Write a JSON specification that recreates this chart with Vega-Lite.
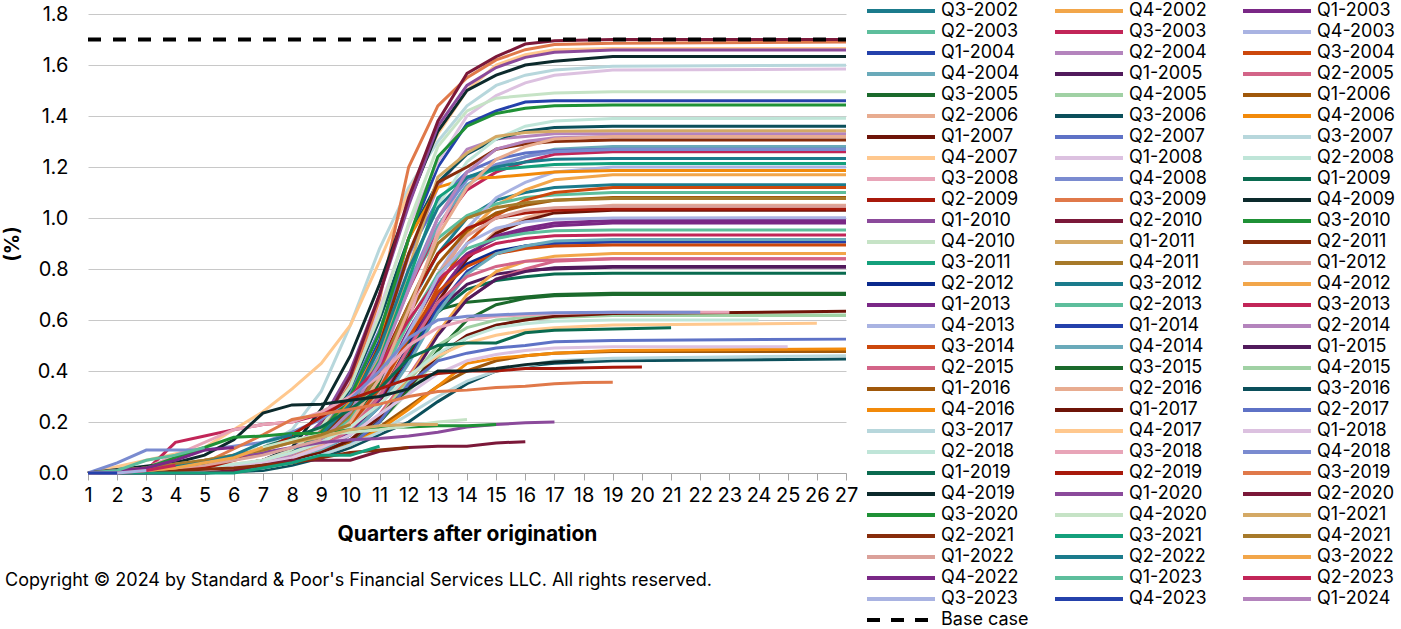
{
"$schema":"https://vega.github.io/schema/vega-lite/v6.json",
"width":758,"height":459,
"autosize":{"type":"none"},
"padding":{"left":88,"top":14,"right":555,"bottom":156},
"config":{"font":"Inter","view":{"stroke":null}},
"title":{"text":"Copyright © 2024 by Standard & Poor's Financial Services LLC. All rights reserved.","orient":"bottom","anchor":"start","frame":"group","dx":-83,"offset":-57,"fontSize":18,"fontWeight":"normal","color":"#000"},
"encoding":{
"x":{"field":"q","type":"quantitative","scale":{"domain":[1,27],"nice":false,"zero":false},"axis":{"values":[1,2,3,4,5,6,7,8,9,10,11,12,13,14,15,16,17,18,19,20,21,22,23,24,25,26,27],"title":"Quarters after origination","titleFontSize":21,"titleFontWeight":"bold","titleColor":"#000","titlePadding":18,"labelFontSize":20,"labelColor":"#000","labelPadding":5,"tickColor":"#a6a6a6","tickSize":7,"domainColor":"#a6a6a6","grid":false,"labelFlush":false,"labelOverlap":false}},
"y":{"field":"v","type":"quantitative","scale":{"domain":[0,1.8],"nice":false},"axis":{"values":[0,0.2,0.4,0.6,0.8,1,1.2,1.4,1.6,1.8],"format":".1f","title":"(%)","titleFontSize":20,"titleFontWeight":"bold","titleColor":"#000","titlePadding":15,"labelFontSize":20,"labelColor":"#000","labelPadding":20,"ticks":false,"domain":false,"gridColor":"#c8c8c8","gridWidth":1}}
},
"layer":[
{"data":{"values":[
{"s":"Q3-2002","q":1,"v":0},{"s":"Q3-2002","q":5,"v":0.01},{"s":"Q3-2002","q":7,"v":0.03},{"s":"Q3-2002","q":8,"v":0.07},{"s":"Q3-2002","q":9,"v":0.12},{"s":"Q3-2002","q":10,"v":0.23},{"s":"Q3-2002","q":11,"v":0.41},{"s":"Q3-2002","q":12,"v":0.65},{"s":"Q3-2002","q":13,"v":0.86},{"s":"Q3-2002","q":14,"v":1.0},{"s":"Q3-2002","q":15,"v":1.07},{"s":"Q3-2002","q":16,"v":1.1},{"s":"Q3-2002","q":17,"v":1.12},{"s":"Q3-2002","q":19,"v":1.13},{"s":"Q3-2002","q":27,"v":1.13},
{"s":"Q4-2002","q":1,"v":0},{"s":"Q4-2002","q":5,"v":0.01},{"s":"Q4-2002","q":7,"v":0.035},{"s":"Q4-2002","q":8,"v":0.06},{"s":"Q4-2002","q":9,"v":0.105},{"s":"Q4-2002","q":10,"v":0.175},{"s":"Q4-2002","q":11,"v":0.32},{"s":"Q4-2002","q":12,"v":0.53},{"s":"Q4-2002","q":13,"v":0.76},{"s":"Q4-2002","q":14,"v":0.94},{"s":"Q4-2002","q":15,"v":1.05},{"s":"Q4-2002","q":16,"v":1.11},{"s":"Q4-2002","q":17,"v":1.15},{"s":"Q4-2002","q":19,"v":1.17},{"s":"Q4-2002","q":27,"v":1.17},
{"s":"Q1-2003","q":1,"v":0},{"s":"Q1-2003","q":5,"v":0.01},{"s":"Q1-2003","q":7,"v":0.03},{"s":"Q1-2003","q":8,"v":0.06},{"s":"Q1-2003","q":9,"v":0.11},{"s":"Q1-2003","q":10,"v":0.2},{"s":"Q1-2003","q":11,"v":0.35},{"s":"Q1-2003","q":12,"v":0.56},{"s":"Q1-2003","q":13,"v":0.75},{"s":"Q1-2003","q":14,"v":0.86},{"s":"Q1-2003","q":15,"v":0.92},{"s":"Q1-2003","q":16,"v":0.95},{"s":"Q1-2003","q":17,"v":0.97},{"s":"Q1-2003","q":19,"v":0.98},{"s":"Q1-2003","q":27,"v":0.98},
{"s":"Q2-2003","q":1,"v":0},{"s":"Q2-2003","q":5,"v":0.01},{"s":"Q2-2003","q":7,"v":0.045},{"s":"Q2-2003","q":8,"v":0.08},{"s":"Q2-2003","q":9,"v":0.14},{"s":"Q2-2003","q":10,"v":0.27},{"s":"Q2-2003","q":11,"v":0.49},{"s":"Q2-2003","q":12,"v":0.75},{"s":"Q2-2003","q":13,"v":0.92},{"s":"Q2-2003","q":14,"v":1.01},{"s":"Q2-2003","q":15,"v":1.055},{"s":"Q2-2003","q":16,"v":1.08},{"s":"Q2-2003","q":17,"v":1.09},{"s":"Q2-2003","q":19,"v":1.1},{"s":"Q2-2003","q":27,"v":1.1},
{"s":"Q3-2003","q":1,"v":0},{"s":"Q3-2003","q":5,"v":0.01},{"s":"Q3-2003","q":7,"v":0.04},{"s":"Q3-2003","q":8,"v":0.08},{"s":"Q3-2003","q":9,"v":0.14},{"s":"Q3-2003","q":10,"v":0.25},{"s":"Q3-2003","q":11,"v":0.45},{"s":"Q3-2003","q":12,"v":0.72},{"s":"Q3-2003","q":13,"v":0.96},{"s":"Q3-2003","q":14,"v":1.11},{"s":"Q3-2003","q":15,"v":1.18},{"s":"Q3-2003","q":16,"v":1.22},{"s":"Q3-2003","q":17,"v":1.25},{"s":"Q3-2003","q":19,"v":1.26},{"s":"Q3-2003","q":27,"v":1.26},
{"s":"Q4-2003","q":1,"v":0},{"s":"Q4-2003","q":5,"v":0.01},{"s":"Q4-2003","q":7,"v":0.04},{"s":"Q4-2003","q":8,"v":0.06},{"s":"Q4-2003","q":9,"v":0.11},{"s":"Q4-2003","q":10,"v":0.18},{"s":"Q4-2003","q":11,"v":0.33},{"s":"Q4-2003","q":12,"v":0.54},{"s":"Q4-2003","q":13,"v":0.78},{"s":"Q4-2003","q":14,"v":0.96},{"s":"Q4-2003","q":15,"v":1.08},{"s":"Q4-2003","q":16,"v":1.14},{"s":"Q4-2003","q":17,"v":1.18},{"s":"Q4-2003","q":19,"v":1.2},{"s":"Q4-2003","q":27,"v":1.2},
{"s":"Q1-2004","q":1,"v":0},{"s":"Q1-2004","q":5,"v":0.01},{"s":"Q1-2004","q":7,"v":0.04},{"s":"Q1-2004","q":8,"v":0.08},{"s":"Q1-2004","q":9,"v":0.15},{"s":"Q1-2004","q":10,"v":0.28},{"s":"Q1-2004","q":11,"v":0.52},{"s":"Q1-2004","q":12,"v":0.92},{"s":"Q1-2004","q":13,"v":1.2},{"s":"Q1-2004","q":14,"v":1.37},{"s":"Q1-2004","q":15,"v":1.42},{"s":"Q1-2004","q":16,"v":1.455},{"s":"Q1-2004","q":17,"v":1.46},{"s":"Q1-2004","q":19,"v":1.46},{"s":"Q1-2004","q":27,"v":1.46},
{"s":"Q2-2004","q":1,"v":0},{"s":"Q2-2004","q":5,"v":0.01},{"s":"Q2-2004","q":7,"v":0.04},{"s":"Q2-2004","q":8,"v":0.08},{"s":"Q2-2004","q":9,"v":0.15},{"s":"Q2-2004","q":10,"v":0.28},{"s":"Q2-2004","q":11,"v":0.5},{"s":"Q2-2004","q":12,"v":0.85},{"s":"Q2-2004","q":13,"v":1.12},{"s":"Q2-2004","q":14,"v":1.27},{"s":"Q2-2004","q":15,"v":1.31},{"s":"Q2-2004","q":16,"v":1.32},{"s":"Q2-2004","q":17,"v":1.33},{"s":"Q2-2004","q":19,"v":1.33},{"s":"Q2-2004","q":27,"v":1.33},
{"s":"Q3-2004","q":1,"v":0},{"s":"Q3-2004","q":5,"v":0.01},{"s":"Q3-2004","q":7,"v":0.03},{"s":"Q3-2004","q":8,"v":0.06},{"s":"Q3-2004","q":9,"v":0.1},{"s":"Q3-2004","q":10,"v":0.17},{"s":"Q3-2004","q":11,"v":0.3},{"s":"Q3-2004","q":12,"v":0.5},{"s":"Q3-2004","q":13,"v":0.73},{"s":"Q3-2004","q":14,"v":0.9},{"s":"Q3-2004","q":15,"v":1.01},{"s":"Q3-2004","q":16,"v":1.07},{"s":"Q3-2004","q":17,"v":1.1},{"s":"Q3-2004","q":19,"v":1.12},{"s":"Q3-2004","q":27,"v":1.12},
{"s":"Q4-2004","q":1,"v":0},{"s":"Q4-2004","q":5,"v":0.01},{"s":"Q4-2004","q":7,"v":0.04},{"s":"Q4-2004","q":8,"v":0.08},{"s":"Q4-2004","q":9,"v":0.14},{"s":"Q4-2004","q":10,"v":0.26},{"s":"Q4-2004","q":11,"v":0.46},{"s":"Q4-2004","q":12,"v":0.73},{"s":"Q4-2004","q":13,"v":0.97},{"s":"Q4-2004","q":14,"v":1.13},{"s":"Q4-2004","q":15,"v":1.2},{"s":"Q4-2004","q":16,"v":1.24},{"s":"Q4-2004","q":17,"v":1.27},{"s":"Q4-2004","q":19,"v":1.28},{"s":"Q4-2004","q":27,"v":1.28},
{"s":"Q1-2005","q":1,"v":0},{"s":"Q1-2005","q":5,"v":0.01},{"s":"Q1-2005","q":7,"v":0.03},{"s":"Q1-2005","q":8,"v":0.05},{"s":"Q1-2005","q":9,"v":0.09},{"s":"Q1-2005","q":10,"v":0.16},{"s":"Q1-2005","q":11,"v":0.29},{"s":"Q1-2005","q":12,"v":0.47},{"s":"Q1-2005","q":13,"v":0.64},{"s":"Q1-2005","q":14,"v":0.74},{"s":"Q1-2005","q":15,"v":0.78},{"s":"Q1-2005","q":16,"v":0.795},{"s":"Q1-2005","q":17,"v":0.8},{"s":"Q1-2005","q":19,"v":0.807},{"s":"Q1-2005","q":27,"v":0.807},
{"s":"Q2-2005","q":1,"v":0},{"s":"Q2-2005","q":5,"v":0.01},{"s":"Q2-2005","q":7,"v":0.02},{"s":"Q2-2005","q":8,"v":0.04},{"s":"Q2-2005","q":9,"v":0.07},{"s":"Q2-2005","q":10,"v":0.13},{"s":"Q2-2005","q":11,"v":0.23},{"s":"Q2-2005","q":12,"v":0.38},{"s":"Q2-2005","q":13,"v":0.55},{"s":"Q2-2005","q":14,"v":0.68},{"s":"Q2-2005","q":15,"v":0.76},{"s":"Q2-2005","q":16,"v":0.8},{"s":"Q2-2005","q":17,"v":0.83},{"s":"Q2-2005","q":19,"v":0.84},{"s":"Q2-2005","q":27,"v":0.84},
{"s":"Q3-2005","q":1,"v":0},{"s":"Q3-2005","q":5,"v":0.01},{"s":"Q3-2005","q":7,"v":0.03},{"s":"Q3-2005","q":8,"v":0.06},{"s":"Q3-2005","q":9,"v":0.11},{"s":"Q3-2005","q":10,"v":0.2},{"s":"Q3-2005","q":11,"v":0.35},{"s":"Q3-2005","q":12,"v":0.52},{"s":"Q3-2005","q":13,"v":0.64},{"s":"Q3-2005","q":14,"v":0.67},{"s":"Q3-2005","q":15,"v":0.68},{"s":"Q3-2005","q":16,"v":0.69},{"s":"Q3-2005","q":17,"v":0.7},{"s":"Q3-2005","q":19,"v":0.705},{"s":"Q3-2005","q":27,"v":0.705},
{"s":"Q4-2005","q":1,"v":0},{"s":"Q4-2005","q":5,"v":0.01},{"s":"Q4-2005","q":7,"v":0.03},{"s":"Q4-2005","q":8,"v":0.05},{"s":"Q4-2005","q":9,"v":0.08},{"s":"Q4-2005","q":10,"v":0.12},{"s":"Q4-2005","q":11,"v":0.2},{"s":"Q4-2005","q":12,"v":0.32},{"s":"Q4-2005","q":13,"v":0.45},{"s":"Q4-2005","q":14,"v":0.53},{"s":"Q4-2005","q":15,"v":0.58},{"s":"Q4-2005","q":16,"v":0.6},{"s":"Q4-2005","q":17,"v":0.61},{"s":"Q4-2005","q":19,"v":0.618},{"s":"Q4-2005","q":27,"v":0.618},
{"s":"Q1-2006","q":1,"v":0},{"s":"Q1-2006","q":5,"v":0.01},{"s":"Q1-2006","q":7,"v":0.03},{"s":"Q1-2006","q":8,"v":0.07},{"s":"Q1-2006","q":9,"v":0.12},{"s":"Q1-2006","q":10,"v":0.22},{"s":"Q1-2006","q":11,"v":0.39},{"s":"Q1-2006","q":12,"v":0.62},{"s":"Q1-2006","q":13,"v":0.82},{"s":"Q1-2006","q":14,"v":0.95},{"s":"Q1-2006","q":15,"v":1.02},{"s":"Q1-2006","q":16,"v":1.05},{"s":"Q1-2006","q":17,"v":1.07},{"s":"Q1-2006","q":19,"v":1.08},{"s":"Q1-2006","q":27,"v":1.08},
{"s":"Q2-2006","q":1,"v":0},{"s":"Q2-2006","q":5,"v":0.01},{"s":"Q2-2006","q":7,"v":0.03},{"s":"Q2-2006","q":8,"v":0.06},{"s":"Q2-2006","q":9,"v":0.1},{"s":"Q2-2006","q":10,"v":0.16},{"s":"Q2-2006","q":11,"v":0.28},{"s":"Q2-2006","q":12,"v":0.47},{"s":"Q2-2006","q":13,"v":0.68},{"s":"Q2-2006","q":14,"v":0.84},{"s":"Q2-2006","q":15,"v":0.95},{"s":"Q2-2006","q":16,"v":1.0},{"s":"Q2-2006","q":17,"v":1.03},{"s":"Q2-2006","q":19,"v":1.05},{"s":"Q2-2006","q":27,"v":1.05},
{"s":"Q3-2006","q":1,"v":0},{"s":"Q3-2006","q":5,"v":0.01},{"s":"Q3-2006","q":7,"v":0.05},{"s":"Q3-2006","q":8,"v":0.09},{"s":"Q3-2006","q":9,"v":0.17},{"s":"Q3-2006","q":10,"v":0.33},{"s":"Q3-2006","q":11,"v":0.6},{"s":"Q3-2006","q":12,"v":0.92},{"s":"Q3-2006","q":13,"v":1.14},{"s":"Q3-2006","q":14,"v":1.25},{"s":"Q3-2006","q":15,"v":1.31},{"s":"Q3-2006","q":16,"v":1.34},{"s":"Q3-2006","q":17,"v":1.355},{"s":"Q3-2006","q":19,"v":1.36},{"s":"Q3-2006","q":27,"v":1.36},
{"s":"Q4-2006","q":1,"v":0},{"s":"Q4-2006","q":5,"v":0.01},{"s":"Q4-2006","q":7,"v":0.04},{"s":"Q4-2006","q":8,"v":0.08},{"s":"Q4-2006","q":9,"v":0.15},{"s":"Q4-2006","q":10,"v":0.28},{"s":"Q4-2006","q":11,"v":0.5},{"s":"Q4-2006","q":12,"v":0.92},{"s":"Q4-2006","q":13,"v":1.12},{"s":"Q4-2006","q":14,"v":1.155},{"s":"Q4-2006","q":15,"v":1.16},{"s":"Q4-2006","q":16,"v":1.17},{"s":"Q4-2006","q":17,"v":1.18},{"s":"Q4-2006","q":19,"v":1.186},{"s":"Q4-2006","q":27,"v":1.186},
{"s":"Q1-2007","q":1,"v":0},{"s":"Q1-2007","q":5,"v":0.01},{"s":"Q1-2007","q":7,"v":0.03},{"s":"Q1-2007","q":8,"v":0.05},{"s":"Q1-2007","q":9,"v":0.09},{"s":"Q1-2007","q":10,"v":0.16},{"s":"Q1-2007","q":11,"v":0.28},{"s":"Q1-2007","q":12,"v":0.46},{"s":"Q1-2007","q":13,"v":0.67},{"s":"Q1-2007","q":14,"v":0.84},{"s":"Q1-2007","q":15,"v":0.94},{"s":"Q1-2007","q":16,"v":0.99},{"s":"Q1-2007","q":17,"v":1.02},{"s":"Q1-2007","q":19,"v":1.03},{"s":"Q1-2007","q":27,"v":1.03},
{"s":"Q2-2007","q":1,"v":0},{"s":"Q2-2007","q":5,"v":0.01},{"s":"Q2-2007","q":7,"v":0.04},{"s":"Q2-2007","q":8,"v":0.09},{"s":"Q2-2007","q":9,"v":0.17},{"s":"Q2-2007","q":10,"v":0.31},{"s":"Q2-2007","q":11,"v":0.56},{"s":"Q2-2007","q":12,"v":0.86},{"s":"Q2-2007","q":13,"v":1.07},{"s":"Q2-2007","q":14,"v":1.18},{"s":"Q2-2007","q":15,"v":1.23},{"s":"Q2-2007","q":16,"v":1.255},{"s":"Q2-2007","q":17,"v":1.265},{"s":"Q2-2007","q":19,"v":1.27},{"s":"Q2-2007","q":27,"v":1.27},
{"s":"Q3-2007","q":1,"v":0},{"s":"Q3-2007","q":5,"v":0.02},{"s":"Q3-2007","q":7,"v":0.1},{"s":"Q3-2007","q":8,"v":0.17},{"s":"Q3-2007","q":9,"v":0.32},{"s":"Q3-2007","q":10,"v":0.58},{"s":"Q3-2007","q":11,"v":0.88},{"s":"Q3-2007","q":12,"v":1.12},{"s":"Q3-2007","q":13,"v":1.3},{"s":"Q3-2007","q":14,"v":1.44},{"s":"Q3-2007","q":15,"v":1.52},{"s":"Q3-2007","q":16,"v":1.56},{"s":"Q3-2007","q":17,"v":1.58},{"s":"Q3-2007","q":19,"v":1.595},{"s":"Q3-2007","q":27,"v":1.599},
{"s":"Q4-2007","q":1,"v":0},{"s":"Q4-2007","q":5,"v":0.1},{"s":"Q4-2007","q":7,"v":0.24},{"s":"Q4-2007","q":8,"v":0.33},{"s":"Q4-2007","q":9,"v":0.43},{"s":"Q4-2007","q":10,"v":0.58},{"s":"Q4-2007","q":11,"v":0.83},{"s":"Q4-2007","q":12,"v":1.1},{"s":"Q4-2007","q":13,"v":1.33},{"s":"Q4-2007","q":14,"v":1.5},{"s":"Q4-2007","q":15,"v":1.6},{"s":"Q4-2007","q":16,"v":1.64},{"s":"Q4-2007","q":17,"v":1.66},{"s":"Q4-2007","q":19,"v":1.665},{"s":"Q4-2007","q":27,"v":1.665},
{"s":"Q1-2008","q":1,"v":0},{"s":"Q1-2008","q":5,"v":0.01},{"s":"Q1-2008","q":7,"v":0.05},{"s":"Q1-2008","q":8,"v":0.1},{"s":"Q1-2008","q":9,"v":0.19},{"s":"Q1-2008","q":10,"v":0.36},{"s":"Q1-2008","q":11,"v":0.64},{"s":"Q1-2008","q":12,"v":0.97},{"s":"Q1-2008","q":13,"v":1.22},{"s":"Q1-2008","q":14,"v":1.4},{"s":"Q1-2008","q":15,"v":1.48},{"s":"Q1-2008","q":16,"v":1.53},{"s":"Q1-2008","q":17,"v":1.56},{"s":"Q1-2008","q":19,"v":1.58},{"s":"Q1-2008","q":27,"v":1.584},
{"s":"Q2-2008","q":1,"v":0},{"s":"Q2-2008","q":5,"v":0.01},{"s":"Q2-2008","q":7,"v":0.04},{"s":"Q2-2008","q":8,"v":0.08},{"s":"Q2-2008","q":9,"v":0.15},{"s":"Q2-2008","q":10,"v":0.27},{"s":"Q2-2008","q":11,"v":0.48},{"s":"Q2-2008","q":12,"v":0.78},{"s":"Q2-2008","q":13,"v":1.05},{"s":"Q2-2008","q":14,"v":1.22},{"s":"Q2-2008","q":15,"v":1.31},{"s":"Q2-2008","q":16,"v":1.36},{"s":"Q2-2008","q":17,"v":1.38},{"s":"Q2-2008","q":19,"v":1.39},{"s":"Q2-2008","q":27,"v":1.391},
{"s":"Q3-2008","q":1,"v":0},{"s":"Q3-2008","q":5,"v":0.01},{"s":"Q3-2008","q":7,"v":0.03},{"s":"Q3-2008","q":8,"v":0.06},{"s":"Q3-2008","q":9,"v":0.1},{"s":"Q3-2008","q":10,"v":0.18},{"s":"Q3-2008","q":11,"v":0.33},{"s":"Q3-2008","q":12,"v":0.6},{"s":"Q3-2008","q":13,"v":0.95},{"s":"Q3-2008","q":14,"v":1.18},{"s":"Q3-2008","q":15,"v":1.27},{"s":"Q3-2008","q":16,"v":1.3},{"s":"Q3-2008","q":17,"v":1.31},{"s":"Q3-2008","q":19,"v":1.319},{"s":"Q3-2008","q":27,"v":1.319},
{"s":"Q4-2008","q":1,"v":0},{"s":"Q4-2008","q":5,"v":0.01},{"s":"Q4-2008","q":7,"v":0.04},{"s":"Q4-2008","q":8,"v":0.08},{"s":"Q4-2008","q":9,"v":0.14},{"s":"Q4-2008","q":10,"v":0.26},{"s":"Q4-2008","q":11,"v":0.46},{"s":"Q4-2008","q":12,"v":0.74},{"s":"Q4-2008","q":13,"v":1.0},{"s":"Q4-2008","q":14,"v":1.15},{"s":"Q4-2008","q":15,"v":1.21},{"s":"Q4-2008","q":16,"v":1.24},{"s":"Q4-2008","q":17,"v":1.26},{"s":"Q4-2008","q":19,"v":1.269},{"s":"Q4-2008","q":27,"v":1.269},
{"s":"Q1-2009","q":1,"v":0},{"s":"Q1-2009","q":5,"v":0.01},{"s":"Q1-2009","q":7,"v":0.03},{"s":"Q1-2009","q":8,"v":0.06},{"s":"Q1-2009","q":9,"v":0.1},{"s":"Q1-2009","q":10,"v":0.18},{"s":"Q1-2009","q":11,"v":0.31},{"s":"Q1-2009","q":12,"v":0.48},{"s":"Q1-2009","q":13,"v":0.63},{"s":"Q1-2009","q":14,"v":0.72},{"s":"Q1-2009","q":15,"v":0.755},{"s":"Q1-2009","q":16,"v":0.77},{"s":"Q1-2009","q":17,"v":0.78},{"s":"Q1-2009","q":19,"v":0.783},{"s":"Q1-2009","q":27,"v":0.783},
{"s":"Q2-2009","q":1,"v":0},{"s":"Q2-2009","q":5,"v":0.01},{"s":"Q2-2009","q":7,"v":0.04},{"s":"Q2-2009","q":8,"v":0.07},{"s":"Q2-2009","q":9,"v":0.13},{"s":"Q2-2009","q":10,"v":0.24},{"s":"Q2-2009","q":11,"v":0.42},{"s":"Q2-2009","q":12,"v":0.66},{"s":"Q2-2009","q":13,"v":0.86},{"s":"Q2-2009","q":14,"v":0.96},{"s":"Q2-2009","q":15,"v":1.0},{"s":"Q2-2009","q":16,"v":1.02},{"s":"Q2-2009","q":17,"v":1.03},{"s":"Q2-2009","q":19,"v":1.035},{"s":"Q2-2009","q":27,"v":1.035},
{"s":"Q3-2009","q":1,"v":0},{"s":"Q3-2009","q":5,"v":0.01},{"s":"Q3-2009","q":7,"v":0.04},{"s":"Q3-2009","q":8,"v":0.08},{"s":"Q3-2009","q":9,"v":0.17},{"s":"Q3-2009","q":10,"v":0.35},{"s":"Q3-2009","q":11,"v":0.68},{"s":"Q3-2009","q":12,"v":1.2},{"s":"Q3-2009","q":13,"v":1.44},{"s":"Q3-2009","q":14,"v":1.55},{"s":"Q3-2009","q":15,"v":1.62},{"s":"Q3-2009","q":16,"v":1.66},{"s":"Q3-2009","q":17,"v":1.68},{"s":"Q3-2009","q":19,"v":1.685},{"s":"Q3-2009","q":27,"v":1.69},
{"s":"Q4-2009","q":1,"v":0},{"s":"Q4-2009","q":5,"v":0.01},{"s":"Q4-2009","q":7,"v":0.05},{"s":"Q4-2009","q":8,"v":0.1},{"s":"Q4-2009","q":9,"v":0.25},{"s":"Q4-2009","q":10,"v":0.46},{"s":"Q4-2009","q":11,"v":0.74},{"s":"Q4-2009","q":12,"v":1.06},{"s":"Q4-2009","q":13,"v":1.34},{"s":"Q4-2009","q":14,"v":1.5},{"s":"Q4-2009","q":15,"v":1.56},{"s":"Q4-2009","q":16,"v":1.6},{"s":"Q4-2009","q":17,"v":1.615},{"s":"Q4-2009","q":19,"v":1.633},{"s":"Q4-2009","q":27,"v":1.633},
{"s":"Q1-2010","q":1,"v":0},{"s":"Q1-2010","q":5,"v":0.01},{"s":"Q1-2010","q":7,"v":0.05},{"s":"Q1-2010","q":8,"v":0.09},{"s":"Q1-2010","q":9,"v":0.2},{"s":"Q1-2010","q":10,"v":0.4},{"s":"Q1-2010","q":11,"v":0.7},{"s":"Q1-2010","q":12,"v":1.05},{"s":"Q1-2010","q":13,"v":1.36},{"s":"Q1-2010","q":14,"v":1.52},{"s":"Q1-2010","q":15,"v":1.59},{"s":"Q1-2010","q":16,"v":1.63},{"s":"Q1-2010","q":17,"v":1.65},{"s":"Q1-2010","q":19,"v":1.659},{"s":"Q1-2010","q":27,"v":1.659},
{"s":"Q2-2010","q":1,"v":0},{"s":"Q2-2010","q":5,"v":0.01},{"s":"Q2-2010","q":7,"v":0.04},{"s":"Q2-2010","q":8,"v":0.08},{"s":"Q2-2010","q":9,"v":0.18},{"s":"Q2-2010","q":10,"v":0.38},{"s":"Q2-2010","q":11,"v":0.7},{"s":"Q2-2010","q":12,"v":1.08},{"s":"Q2-2010","q":13,"v":1.38},{"s":"Q2-2010","q":14,"v":1.567},{"s":"Q2-2010","q":15,"v":1.633},{"s":"Q2-2010","q":16,"v":1.682},{"s":"Q2-2010","q":17,"v":1.695},{"s":"Q2-2010","q":19,"v":1.7},{"s":"Q2-2010","q":27,"v":1.7},
{"s":"Q3-2010","q":1,"v":0},{"s":"Q3-2010","q":5,"v":0.01},{"s":"Q3-2010","q":7,"v":0.04},{"s":"Q3-2010","q":8,"v":0.08},{"s":"Q3-2010","q":9,"v":0.16},{"s":"Q3-2010","q":10,"v":0.3},{"s":"Q3-2010","q":11,"v":0.55},{"s":"Q3-2010","q":12,"v":0.92},{"s":"Q3-2010","q":13,"v":1.24},{"s":"Q3-2010","q":14,"v":1.36},{"s":"Q3-2010","q":15,"v":1.41},{"s":"Q3-2010","q":16,"v":1.43},{"s":"Q3-2010","q":17,"v":1.44},{"s":"Q3-2010","q":19,"v":1.443},{"s":"Q3-2010","q":27,"v":1.443},
{"s":"Q4-2010","q":1,"v":0},{"s":"Q4-2010","q":5,"v":0.01},{"s":"Q4-2010","q":7,"v":0.05},{"s":"Q4-2010","q":8,"v":0.09},{"s":"Q4-2010","q":9,"v":0.18},{"s":"Q4-2010","q":10,"v":0.34},{"s":"Q4-2010","q":11,"v":0.62},{"s":"Q4-2010","q":12,"v":0.98},{"s":"Q4-2010","q":13,"v":1.28},{"s":"Q4-2010","q":14,"v":1.42},{"s":"Q4-2010","q":15,"v":1.47},{"s":"Q4-2010","q":16,"v":1.48},{"s":"Q4-2010","q":17,"v":1.49},{"s":"Q4-2010","q":19,"v":1.495},{"s":"Q4-2010","q":27,"v":1.495},
{"s":"Q1-2011","q":1,"v":0},{"s":"Q1-2011","q":5,"v":0.01},{"s":"Q1-2011","q":7,"v":0.04},{"s":"Q1-2011","q":8,"v":0.07},{"s":"Q1-2011","q":9,"v":0.13},{"s":"Q1-2011","q":10,"v":0.25},{"s":"Q1-2011","q":11,"v":0.45},{"s":"Q1-2011","q":12,"v":0.8},{"s":"Q1-2011","q":13,"v":1.16},{"s":"Q1-2011","q":14,"v":1.255},{"s":"Q1-2011","q":15,"v":1.32},{"s":"Q1-2011","q":16,"v":1.335},{"s":"Q1-2011","q":17,"v":1.34},{"s":"Q1-2011","q":19,"v":1.342},{"s":"Q1-2011","q":27,"v":1.342},
{"s":"Q2-2011","q":1,"v":0},{"s":"Q2-2011","q":5,"v":0.01},{"s":"Q2-2011","q":7,"v":0.04},{"s":"Q2-2011","q":8,"v":0.08},{"s":"Q2-2011","q":9,"v":0.14},{"s":"Q2-2011","q":10,"v":0.26},{"s":"Q2-2011","q":11,"v":0.5},{"s":"Q2-2011","q":12,"v":0.86},{"s":"Q2-2011","q":13,"v":1.14},{"s":"Q2-2011","q":14,"v":1.2},{"s":"Q2-2011","q":15,"v":1.27},{"s":"Q2-2011","q":16,"v":1.29},{"s":"Q2-2011","q":17,"v":1.3},{"s":"Q2-2011","q":19,"v":1.306},{"s":"Q2-2011","q":27,"v":1.306},
{"s":"Q3-2011","q":1,"v":0},{"s":"Q3-2011","q":5,"v":0.01},{"s":"Q3-2011","q":7,"v":0.04},{"s":"Q3-2011","q":8,"v":0.07},{"s":"Q3-2011","q":9,"v":0.13},{"s":"Q3-2011","q":10,"v":0.24},{"s":"Q3-2011","q":11,"v":0.44},{"s":"Q3-2011","q":12,"v":0.76},{"s":"Q3-2011","q":13,"v":1.08},{"s":"Q3-2011","q":14,"v":1.16},{"s":"Q3-2011","q":15,"v":1.19},{"s":"Q3-2011","q":16,"v":1.2},{"s":"Q3-2011","q":17,"v":1.21},{"s":"Q3-2011","q":19,"v":1.214},{"s":"Q3-2011","q":27,"v":1.214},
{"s":"Q4-2011","q":1,"v":0},{"s":"Q4-2011","q":5,"v":0.01},{"s":"Q4-2011","q":7,"v":0.03},{"s":"Q4-2011","q":8,"v":0.07},{"s":"Q4-2011","q":9,"v":0.12},{"s":"Q4-2011","q":10,"v":0.22},{"s":"Q4-2011","q":11,"v":0.4},{"s":"Q4-2011","q":12,"v":0.66},{"s":"Q4-2011","q":13,"v":0.9},{"s":"Q4-2011","q":14,"v":1.0},{"s":"Q4-2011","q":15,"v":1.04},{"s":"Q4-2011","q":16,"v":1.06},{"s":"Q4-2011","q":17,"v":1.07},{"s":"Q4-2011","q":19,"v":1.076},{"s":"Q4-2011","q":27,"v":1.076},
{"s":"Q1-2012","q":1,"v":0},{"s":"Q1-2012","q":5,"v":0.01},{"s":"Q1-2012","q":7,"v":0.03},{"s":"Q1-2012","q":8,"v":0.06},{"s":"Q1-2012","q":9,"v":0.1},{"s":"Q1-2012","q":10,"v":0.18},{"s":"Q1-2012","q":11,"v":0.32},{"s":"Q1-2012","q":12,"v":0.54},{"s":"Q1-2012","q":13,"v":0.78},{"s":"Q1-2012","q":14,"v":0.93},{"s":"Q1-2012","q":15,"v":1.0},{"s":"Q1-2012","q":16,"v":1.03},{"s":"Q1-2012","q":17,"v":1.04},{"s":"Q1-2012","q":19,"v":1.047},{"s":"Q1-2012","q":27,"v":1.047},
{"s":"Q2-2012","q":1,"v":0},{"s":"Q2-2012","q":5,"v":0.01},{"s":"Q2-2012","q":7,"v":0.03},{"s":"Q2-2012","q":8,"v":0.05},{"s":"Q2-2012","q":9,"v":0.09},{"s":"Q2-2012","q":10,"v":0.16},{"s":"Q2-2012","q":11,"v":0.29},{"s":"Q2-2012","q":12,"v":0.5},{"s":"Q2-2012","q":13,"v":0.7},{"s":"Q2-2012","q":14,"v":0.82},{"s":"Q2-2012","q":15,"v":0.87},{"s":"Q2-2012","q":16,"v":0.89},{"s":"Q2-2012","q":17,"v":0.905},{"s":"Q2-2012","q":19,"v":0.91},{"s":"Q2-2012","q":27,"v":0.91},
{"s":"Q3-2012","q":1,"v":0},{"s":"Q3-2012","q":5,"v":0.01},{"s":"Q3-2012","q":7,"v":0.04},{"s":"Q3-2012","q":8,"v":0.08},{"s":"Q3-2012","q":9,"v":0.15},{"s":"Q3-2012","q":10,"v":0.27},{"s":"Q3-2012","q":11,"v":0.49},{"s":"Q3-2012","q":12,"v":0.8},{"s":"Q3-2012","q":13,"v":1.04},{"s":"Q3-2012","q":14,"v":1.16},{"s":"Q3-2012","q":15,"v":1.2},{"s":"Q3-2012","q":16,"v":1.22},{"s":"Q3-2012","q":17,"v":1.23},{"s":"Q3-2012","q":19,"v":1.233},{"s":"Q3-2012","q":27,"v":1.233},
{"s":"Q4-2012","q":1,"v":0},{"s":"Q4-2012","q":5,"v":0.01},{"s":"Q4-2012","q":7,"v":0.03},{"s":"Q4-2012","q":8,"v":0.05},{"s":"Q4-2012","q":9,"v":0.08},{"s":"Q4-2012","q":10,"v":0.13},{"s":"Q4-2012","q":11,"v":0.22},{"s":"Q4-2012","q":12,"v":0.37},{"s":"Q4-2012","q":13,"v":0.55},{"s":"Q4-2012","q":14,"v":0.7},{"s":"Q4-2012","q":15,"v":0.79},{"s":"Q4-2012","q":16,"v":0.83},{"s":"Q4-2012","q":17,"v":0.85},{"s":"Q4-2012","q":19,"v":0.861},{"s":"Q4-2012","q":27,"v":0.861},
{"s":"Q1-2013","q":1,"v":0},{"s":"Q1-2013","q":5,"v":0.01},{"s":"Q1-2013","q":7,"v":0.03},{"s":"Q1-2013","q":8,"v":0.05},{"s":"Q1-2013","q":9,"v":0.09},{"s":"Q1-2013","q":10,"v":0.16},{"s":"Q1-2013","q":11,"v":0.29},{"s":"Q1-2013","q":12,"v":0.49},{"s":"Q1-2013","q":13,"v":0.7},{"s":"Q1-2013","q":14,"v":0.85},{"s":"Q1-2013","q":15,"v":0.93},{"s":"Q1-2013","q":16,"v":0.96},{"s":"Q1-2013","q":17,"v":0.98},{"s":"Q1-2013","q":19,"v":0.99},{"s":"Q1-2013","q":27,"v":0.99},
{"s":"Q2-2013","q":1,"v":0},{"s":"Q2-2013","q":5,"v":0.01},{"s":"Q2-2013","q":7,"v":0.04},{"s":"Q2-2013","q":8,"v":0.07},{"s":"Q2-2013","q":9,"v":0.12},{"s":"Q2-2013","q":10,"v":0.21},{"s":"Q2-2013","q":11,"v":0.37},{"s":"Q2-2013","q":12,"v":0.59},{"s":"Q2-2013","q":13,"v":0.78},{"s":"Q2-2013","q":14,"v":0.88},{"s":"Q2-2013","q":15,"v":0.92},{"s":"Q2-2013","q":16,"v":0.94},{"s":"Q2-2013","q":17,"v":0.95},{"s":"Q2-2013","q":19,"v":0.953},{"s":"Q2-2013","q":27,"v":0.953},
{"s":"Q3-2013","q":1,"v":0},{"s":"Q3-2013","q":3,"v":0.01},{"s":"Q3-2013","q":4,"v":0.12},{"s":"Q3-2013","q":5,"v":0.145},{"s":"Q3-2013","q":6,"v":0.17},{"s":"Q3-2013","q":7,"v":0.19},{"s":"Q3-2013","q":8,"v":0.2},{"s":"Q3-2013","q":9,"v":0.23},{"s":"Q3-2013","q":10,"v":0.3},{"s":"Q3-2013","q":11,"v":0.42},{"s":"Q3-2013","q":12,"v":0.6},{"s":"Q3-2013","q":13,"v":0.76},{"s":"Q3-2013","q":14,"v":0.85},{"s":"Q3-2013","q":15,"v":0.9},{"s":"Q3-2013","q":16,"v":0.92},{"s":"Q3-2013","q":17,"v":0.93},{"s":"Q3-2013","q":19,"v":0.933},{"s":"Q3-2013","q":27,"v":0.933},
{"s":"Q4-2013","q":1,"v":0},{"s":"Q4-2013","q":5,"v":0.01},{"s":"Q4-2013","q":7,"v":0.03},{"s":"Q4-2013","q":8,"v":0.06},{"s":"Q4-2013","q":9,"v":0.11},{"s":"Q4-2013","q":10,"v":0.19},{"s":"Q4-2013","q":11,"v":0.33},{"s":"Q4-2013","q":12,"v":0.55},{"s":"Q4-2013","q":13,"v":0.77},{"s":"Q4-2013","q":14,"v":0.9},{"s":"Q4-2013","q":15,"v":0.96},{"s":"Q4-2013","q":16,"v":0.985},{"s":"Q4-2013","q":17,"v":0.995},{"s":"Q4-2013","q":19,"v":1.0},{"s":"Q4-2013","q":27,"v":1.001},
{"s":"Q1-2014","q":1,"v":0},{"s":"Q1-2014","q":5,"v":0.01},{"s":"Q1-2014","q":7,"v":0.03},{"s":"Q1-2014","q":8,"v":0.05},{"s":"Q1-2014","q":9,"v":0.09},{"s":"Q1-2014","q":10,"v":0.15},{"s":"Q1-2014","q":11,"v":0.26},{"s":"Q1-2014","q":12,"v":0.44},{"s":"Q1-2014","q":13,"v":0.65},{"s":"Q1-2014","q":14,"v":0.79},{"s":"Q1-2014","q":15,"v":0.86},{"s":"Q1-2014","q":16,"v":0.89},{"s":"Q1-2014","q":17,"v":0.9},{"s":"Q1-2014","q":19,"v":0.906},{"s":"Q1-2014","q":27,"v":0.906},
{"s":"Q2-2014","q":1,"v":0},{"s":"Q2-2014","q":5,"v":0.01},{"s":"Q2-2014","q":7,"v":0.04},{"s":"Q2-2014","q":8,"v":0.07},{"s":"Q2-2014","q":9,"v":0.13},{"s":"Q2-2014","q":10,"v":0.24},{"s":"Q2-2014","q":11,"v":0.43},{"s":"Q2-2014","q":12,"v":0.72},{"s":"Q2-2014","q":13,"v":1.0},{"s":"Q2-2014","q":14,"v":1.18},{"s":"Q2-2014","q":15,"v":1.27},{"s":"Q2-2014","q":16,"v":1.3},{"s":"Q2-2014","q":17,"v":1.315},{"s":"Q2-2014","q":19,"v":1.32},{"s":"Q2-2014","q":27,"v":1.32},
{"s":"Q3-2014","q":1,"v":0},{"s":"Q3-2014","q":5,"v":0.01},{"s":"Q3-2014","q":7,"v":0.03},{"s":"Q3-2014","q":8,"v":0.06},{"s":"Q3-2014","q":9,"v":0.11},{"s":"Q3-2014","q":10,"v":0.19},{"s":"Q3-2014","q":11,"v":0.33},{"s":"Q3-2014","q":12,"v":0.53},{"s":"Q3-2014","q":13,"v":0.71},{"s":"Q3-2014","q":14,"v":0.81},{"s":"Q3-2014","q":15,"v":0.86},{"s":"Q3-2014","q":16,"v":0.88},{"s":"Q3-2014","q":17,"v":0.89},{"s":"Q3-2014","q":19,"v":0.894},{"s":"Q3-2014","q":27,"v":0.894},
{"s":"Q4-2014","q":1,"v":0},{"s":"Q4-2014","q":5,"v":0.01},{"s":"Q4-2014","q":7,"v":0.03},{"s":"Q4-2014","q":8,"v":0.05},{"s":"Q4-2014","q":9,"v":0.09},{"s":"Q4-2014","q":10,"v":0.15},{"s":"Q4-2014","q":11,"v":0.26},{"s":"Q4-2014","q":12,"v":0.43},{"s":"Q4-2014","q":13,"v":0.63},{"s":"Q4-2014","q":14,"v":0.78},{"s":"Q4-2014","q":15,"v":0.86},{"s":"Q4-2014","q":16,"v":0.89},{"s":"Q4-2014","q":17,"v":0.91},{"s":"Q4-2014","q":19,"v":0.916},{"s":"Q4-2014","q":27,"v":0.916},
{"s":"Q1-2015","q":1,"v":0},{"s":"Q1-2015","q":5,"v":0.01},{"s":"Q1-2015","q":7,"v":0.02},{"s":"Q1-2015","q":8,"v":0.04},{"s":"Q1-2015","q":9,"v":0.07},{"s":"Q1-2015","q":10,"v":0.12},{"s":"Q1-2015","q":11,"v":0.21},{"s":"Q1-2015","q":12,"v":0.36},{"s":"Q1-2015","q":13,"v":0.54},{"s":"Q1-2015","q":14,"v":0.68},{"s":"Q1-2015","q":15,"v":0.76},{"s":"Q1-2015","q":16,"v":0.79},{"s":"Q1-2015","q":17,"v":0.805},{"s":"Q1-2015","q":19,"v":0.81},{"s":"Q1-2015","q":27,"v":0.81},
{"s":"Q2-2015","q":1,"v":0},{"s":"Q2-2015","q":5,"v":0.01},{"s":"Q2-2015","q":7,"v":0.03},{"s":"Q2-2015","q":8,"v":0.06},{"s":"Q2-2015","q":9,"v":0.1},{"s":"Q2-2015","q":10,"v":0.17},{"s":"Q2-2015","q":11,"v":0.3},{"s":"Q2-2015","q":12,"v":0.49},{"s":"Q2-2015","q":13,"v":0.67},{"s":"Q2-2015","q":14,"v":0.77},{"s":"Q2-2015","q":15,"v":0.81},{"s":"Q2-2015","q":16,"v":0.83},{"s":"Q2-2015","q":17,"v":0.835},{"s":"Q2-2015","q":19,"v":0.84},{"s":"Q2-2015","q":27,"v":0.84},
{"s":"Q3-2015","q":1,"v":0},{"s":"Q3-2015","q":5,"v":0.01},{"s":"Q3-2015","q":7,"v":0.02},{"s":"Q3-2015","q":8,"v":0.04},{"s":"Q3-2015","q":9,"v":0.07},{"s":"Q3-2015","q":10,"v":0.12},{"s":"Q3-2015","q":11,"v":0.2},{"s":"Q3-2015","q":12,"v":0.33},{"s":"Q3-2015","q":13,"v":0.48},{"s":"Q3-2015","q":14,"v":0.6},{"s":"Q3-2015","q":15,"v":0.66},{"s":"Q3-2015","q":16,"v":0.685},{"s":"Q3-2015","q":17,"v":0.695},{"s":"Q3-2015","q":19,"v":0.7},{"s":"Q3-2015","q":27,"v":0.7},
{"s":"Q4-2015","q":1,"v":0},{"s":"Q4-2015","q":5,"v":0.01},{"s":"Q4-2015","q":7,"v":0.03},{"s":"Q4-2015","q":8,"v":0.05},{"s":"Q4-2015","q":9,"v":0.08},{"s":"Q4-2015","q":10,"v":0.13},{"s":"Q4-2015","q":11,"v":0.22},{"s":"Q4-2015","q":12,"v":0.36},{"s":"Q4-2015","q":13,"v":0.5},{"s":"Q4-2015","q":14,"v":0.57},{"s":"Q4-2015","q":15,"v":0.6},{"s":"Q4-2015","q":16,"v":0.61},{"s":"Q4-2015","q":17,"v":0.615},{"s":"Q4-2015","q":19,"v":0.62},{"s":"Q4-2015","q":27,"v":0.62},
{"s":"Q1-2016","q":1,"v":0},{"s":"Q1-2016","q":5,"v":0.01},{"s":"Q1-2016","q":7,"v":0.03},{"s":"Q1-2016","q":8,"v":0.05},{"s":"Q1-2016","q":9,"v":0.08},{"s":"Q1-2016","q":10,"v":0.12},{"s":"Q1-2016","q":11,"v":0.18},{"s":"Q1-2016","q":12,"v":0.26},{"s":"Q1-2016","q":13,"v":0.34},{"s":"Q1-2016","q":14,"v":0.4},{"s":"Q1-2016","q":15,"v":0.44},{"s":"Q1-2016","q":16,"v":0.46},{"s":"Q1-2016","q":17,"v":0.47},{"s":"Q1-2016","q":19,"v":0.476},{"s":"Q1-2016","q":27,"v":0.476},
{"s":"Q2-2016","q":1,"v":0},{"s":"Q2-2016","q":5,"v":0.01},{"s":"Q2-2016","q":7,"v":0.03},{"s":"Q2-2016","q":8,"v":0.06},{"s":"Q2-2016","q":9,"v":0.11},{"s":"Q2-2016","q":10,"v":0.2},{"s":"Q2-2016","q":11,"v":0.37},{"s":"Q2-2016","q":12,"v":0.64},{"s":"Q2-2016","q":13,"v":0.93},{"s":"Q2-2016","q":14,"v":1.12},{"s":"Q2-2016","q":15,"v":1.23},{"s":"Q2-2016","q":16,"v":1.28},{"s":"Q2-2016","q":17,"v":1.31},{"s":"Q2-2016","q":19,"v":1.32},{"s":"Q2-2016","q":27,"v":1.32},
{"s":"Q3-2016","q":1,"v":0},{"s":"Q3-2016","q":5,"v":0.0},{"s":"Q3-2016","q":7,"v":0.01},{"s":"Q3-2016","q":8,"v":0.03},{"s":"Q3-2016","q":9,"v":0.06},{"s":"Q3-2016","q":10,"v":0.1},{"s":"Q3-2016","q":11,"v":0.15},{"s":"Q3-2016","q":12,"v":0.2},{"s":"Q3-2016","q":13,"v":0.28},{"s":"Q3-2016","q":14,"v":0.35},{"s":"Q3-2016","q":15,"v":0.4},{"s":"Q3-2016","q":16,"v":0.42},{"s":"Q3-2016","q":17,"v":0.43},{"s":"Q3-2016","q":19,"v":0.44},{"s":"Q3-2016","q":27,"v":0.447},
{"s":"Q4-2016","q":1,"v":0},{"s":"Q4-2016","q":5,"v":0.01},{"s":"Q4-2016","q":7,"v":0.02},{"s":"Q4-2016","q":8,"v":0.04},{"s":"Q4-2016","q":9,"v":0.07},{"s":"Q4-2016","q":10,"v":0.11},{"s":"Q4-2016","q":11,"v":0.17},{"s":"Q4-2016","q":12,"v":0.25},{"s":"Q4-2016","q":13,"v":0.34},{"s":"Q4-2016","q":14,"v":0.43},{"s":"Q4-2016","q":15,"v":0.45},{"s":"Q4-2016","q":16,"v":0.46},{"s":"Q4-2016","q":17,"v":0.47},{"s":"Q4-2016","q":19,"v":0.48},{"s":"Q4-2016","q":27,"v":0.486},
{"s":"Q1-2017","q":1,"v":0},{"s":"Q1-2017","q":5,"v":0.01},{"s":"Q1-2017","q":7,"v":0.03},{"s":"Q1-2017","q":8,"v":0.05},{"s":"Q1-2017","q":9,"v":0.08},{"s":"Q1-2017","q":10,"v":0.13},{"s":"Q1-2017","q":11,"v":0.22},{"s":"Q1-2017","q":12,"v":0.34},{"s":"Q1-2017","q":13,"v":0.46},{"s":"Q1-2017","q":14,"v":0.54},{"s":"Q1-2017","q":15,"v":0.58},{"s":"Q1-2017","q":16,"v":0.6},{"s":"Q1-2017","q":17,"v":0.615},{"s":"Q1-2017","q":19,"v":0.625},{"s":"Q1-2017","q":27,"v":0.634},
{"s":"Q2-2017","q":1,"v":0},{"s":"Q2-2017","q":5,"v":0.0},{"s":"Q2-2017","q":7,"v":0.02},{"s":"Q2-2017","q":8,"v":0.04},{"s":"Q2-2017","q":9,"v":0.07},{"s":"Q2-2017","q":10,"v":0.11},{"s":"Q2-2017","q":11,"v":0.2},{"s":"Q2-2017","q":12,"v":0.35},{"s":"Q2-2017","q":13,"v":0.44},{"s":"Q2-2017","q":14,"v":0.47},{"s":"Q2-2017","q":15,"v":0.49},{"s":"Q2-2017","q":16,"v":0.5},{"s":"Q2-2017","q":17,"v":0.515},{"s":"Q2-2017","q":19,"v":0.52},{"s":"Q2-2017","q":27,"v":0.525},
{"s":"Q3-2017","q":1,"v":0},{"s":"Q3-2017","q":5,"v":0.01},{"s":"Q3-2017","q":7,"v":0.02},{"s":"Q3-2017","q":8,"v":0.04},{"s":"Q3-2017","q":9,"v":0.07},{"s":"Q3-2017","q":10,"v":0.11},{"s":"Q3-2017","q":11,"v":0.16},{"s":"Q3-2017","q":12,"v":0.23},{"s":"Q3-2017","q":13,"v":0.3},{"s":"Q3-2017","q":14,"v":0.36},{"s":"Q3-2017","q":15,"v":0.4},{"s":"Q3-2017","q":16,"v":0.42},{"s":"Q3-2017","q":17,"v":0.44},{"s":"Q3-2017","q":19,"v":0.45},{"s":"Q3-2017","q":27,"v":0.46},
{"s":"Q4-2017","q":1,"v":0},{"s":"Q4-2017","q":5,"v":0.02},{"s":"Q4-2017","q":7,"v":0.05},{"s":"Q4-2017","q":8,"v":0.08},{"s":"Q4-2017","q":9,"v":0.12},{"s":"Q4-2017","q":10,"v":0.18},{"s":"Q4-2017","q":11,"v":0.27},{"s":"Q4-2017","q":12,"v":0.38},{"s":"Q4-2017","q":13,"v":0.46},{"s":"Q4-2017","q":14,"v":0.51},{"s":"Q4-2017","q":15,"v":0.54},{"s":"Q4-2017","q":16,"v":0.56},{"s":"Q4-2017","q":17,"v":0.57},{"s":"Q4-2017","q":19,"v":0.58},{"s":"Q4-2017","q":26,"v":0.587},
{"s":"Q1-2018","q":1,"v":0},{"s":"Q1-2018","q":5,"v":0.01},{"s":"Q1-2018","q":7,"v":0.04},{"s":"Q1-2018","q":8,"v":0.06},{"s":"Q1-2018","q":9,"v":0.1},{"s":"Q1-2018","q":10,"v":0.15},{"s":"Q1-2018","q":11,"v":0.23},{"s":"Q1-2018","q":12,"v":0.31},{"s":"Q1-2018","q":13,"v":0.39},{"s":"Q1-2018","q":14,"v":0.44},{"s":"Q1-2018","q":15,"v":0.465},{"s":"Q1-2018","q":16,"v":0.48},{"s":"Q1-2018","q":17,"v":0.49},{"s":"Q1-2018","q":19,"v":0.495},{"s":"Q1-2018","q":25,"v":0.495},
{"s":"Q2-2018","q":1,"v":0},{"s":"Q2-2018","q":5,"v":0.02},{"s":"Q2-2018","q":7,"v":0.05},{"s":"Q2-2018","q":8,"v":0.08},{"s":"Q2-2018","q":9,"v":0.12},{"s":"Q2-2018","q":10,"v":0.18},{"s":"Q2-2018","q":11,"v":0.27},{"s":"Q2-2018","q":12,"v":0.38},{"s":"Q2-2018","q":13,"v":0.47},{"s":"Q2-2018","q":14,"v":0.53},{"s":"Q2-2018","q":15,"v":0.57},{"s":"Q2-2018","q":16,"v":0.585},{"s":"Q2-2018","q":17,"v":0.595},{"s":"Q2-2018","q":19,"v":0.6},{"s":"Q2-2018","q":24,"v":0.6},
{"s":"Q3-2018","q":1,"v":0},{"s":"Q3-2018","q":3,"v":0.02},{"s":"Q3-2018","q":5,"v":0.12},{"s":"Q3-2018","q":6,"v":0.17},{"s":"Q3-2018","q":7,"v":0.19},{"s":"Q3-2018","q":8,"v":0.2},{"s":"Q3-2018","q":9,"v":0.24},{"s":"Q3-2018","q":10,"v":0.3},{"s":"Q3-2018","q":11,"v":0.38},{"s":"Q3-2018","q":12,"v":0.5},{"s":"Q3-2018","q":13,"v":0.57},{"s":"Q3-2018","q":14,"v":0.6},{"s":"Q3-2018","q":15,"v":0.615},{"s":"Q3-2018","q":16,"v":0.62},{"s":"Q3-2018","q":17,"v":0.625},{"s":"Q3-2018","q":19,"v":0.63},{"s":"Q3-2018","q":23,"v":0.63},
{"s":"Q4-2018","q":1,"v":0},{"s":"Q4-2018","q":2,"v":0.04},{"s":"Q4-2018","q":3,"v":0.09},{"s":"Q4-2018","q":5,"v":0.09},{"s":"Q4-2018","q":7,"v":0.12},{"s":"Q4-2018","q":8,"v":0.16},{"s":"Q4-2018","q":9,"v":0.21},{"s":"Q4-2018","q":10,"v":0.29},{"s":"Q4-2018","q":11,"v":0.4},{"s":"Q4-2018","q":12,"v":0.53},{"s":"Q4-2018","q":13,"v":0.6},{"s":"Q4-2018","q":14,"v":0.615},{"s":"Q4-2018","q":15,"v":0.62},{"s":"Q4-2018","q":16,"v":0.625},{"s":"Q4-2018","q":17,"v":0.628},{"s":"Q4-2018","q":19,"v":0.63},{"s":"Q4-2018","q":22,"v":0.63},
{"s":"Q1-2019","q":1,"v":0},{"s":"Q1-2019","q":5,"v":0.03},{"s":"Q1-2019","q":7,"v":0.1},{"s":"Q1-2019","q":8,"v":0.14},{"s":"Q1-2019","q":9,"v":0.18},{"s":"Q1-2019","q":10,"v":0.25},{"s":"Q1-2019","q":11,"v":0.33},{"s":"Q1-2019","q":12,"v":0.45},{"s":"Q1-2019","q":13,"v":0.5},{"s":"Q1-2019","q":14,"v":0.51},{"s":"Q1-2019","q":15,"v":0.51},{"s":"Q1-2019","q":16,"v":0.55},{"s":"Q1-2019","q":17,"v":0.56},{"s":"Q1-2019","q":19,"v":0.565},{"s":"Q1-2019","q":21,"v":0.57},
{"s":"Q2-2019","q":1,"v":0},{"s":"Q2-2019","q":5,"v":0.02},{"s":"Q2-2019","q":7,"v":0.08},{"s":"Q2-2019","q":8,"v":0.15},{"s":"Q2-2019","q":9,"v":0.22},{"s":"Q2-2019","q":10,"v":0.29},{"s":"Q2-2019","q":11,"v":0.33},{"s":"Q2-2019","q":12,"v":0.37},{"s":"Q2-2019","q":13,"v":0.39},{"s":"Q2-2019","q":14,"v":0.4},{"s":"Q2-2019","q":15,"v":0.4},{"s":"Q2-2019","q":16,"v":0.41},{"s":"Q2-2019","q":17,"v":0.41},{"s":"Q2-2019","q":19,"v":0.415},{"s":"Q2-2019","q":20,"v":0.416},
{"s":"Q3-2019","q":1,"v":0},{"s":"Q3-2019","q":5,"v":0.04},{"s":"Q3-2019","q":7,"v":0.15},{"s":"Q3-2019","q":8,"v":0.21},{"s":"Q3-2019","q":9,"v":0.23},{"s":"Q3-2019","q":10,"v":0.25},{"s":"Q3-2019","q":11,"v":0.27},{"s":"Q3-2019","q":12,"v":0.3},{"s":"Q3-2019","q":13,"v":0.32},{"s":"Q3-2019","q":14,"v":0.325},{"s":"Q3-2019","q":15,"v":0.335},{"s":"Q3-2019","q":16,"v":0.34},{"s":"Q3-2019","q":17,"v":0.35},{"s":"Q3-2019","q":18,"v":0.355},{"s":"Q3-2019","q":19,"v":0.356},
{"s":"Q4-2019","q":1,"v":0},{"s":"Q4-2019","q":4,"v":0.04},{"s":"Q4-2019","q":5,"v":0.07},{"s":"Q4-2019","q":6,"v":0.13},{"s":"Q4-2019","q":7,"v":0.235},{"s":"Q4-2019","q":8,"v":0.267},{"s":"Q4-2019","q":9,"v":0.27},{"s":"Q4-2019","q":10,"v":0.285},{"s":"Q4-2019","q":11,"v":0.3},{"s":"Q4-2019","q":12,"v":0.33},{"s":"Q4-2019","q":13,"v":0.4},{"s":"Q4-2019","q":14,"v":0.4},{"s":"Q4-2019","q":15,"v":0.41},{"s":"Q4-2019","q":16,"v":0.425},{"s":"Q4-2019","q":17,"v":0.435},{"s":"Q4-2019","q":18,"v":0.44},
{"s":"Q1-2020","q":1,"v":0},{"s":"Q1-2020","q":3,"v":0.01},{"s":"Q1-2020","q":5,"v":0.05},{"s":"Q1-2020","q":7,"v":0.08},{"s":"Q1-2020","q":8,"v":0.1},{"s":"Q1-2020","q":9,"v":0.12},{"s":"Q1-2020","q":10,"v":0.13},{"s":"Q1-2020","q":11,"v":0.135},{"s":"Q1-2020","q":12,"v":0.145},{"s":"Q1-2020","q":13,"v":0.16},{"s":"Q1-2020","q":14,"v":0.18},{"s":"Q1-2020","q":15,"v":0.19},{"s":"Q1-2020","q":16,"v":0.197},{"s":"Q1-2020","q":17,"v":0.2},
{"s":"Q2-2020","q":1,"v":0},{"s":"Q2-2020","q":5,"v":0},{"s":"Q2-2020","q":6,"v":0.01},{"s":"Q2-2020","q":7,"v":0.03},{"s":"Q2-2020","q":8,"v":0.05},{"s":"Q2-2020","q":9,"v":0.05},{"s":"Q2-2020","q":10,"v":0.05},{"s":"Q2-2020","q":11,"v":0.085},{"s":"Q2-2020","q":12,"v":0.1},{"s":"Q2-2020","q":13,"v":0.105},{"s":"Q2-2020","q":14,"v":0.105},{"s":"Q2-2020","q":15,"v":0.118},{"s":"Q2-2020","q":16,"v":0.123},
{"s":"Q3-2020","q":1,"v":0},{"s":"Q3-2020","q":3,"v":0.02},{"s":"Q3-2020","q":4,"v":0.06},{"s":"Q3-2020","q":5,"v":0.1},{"s":"Q3-2020","q":6,"v":0.14},{"s":"Q3-2020","q":7,"v":0.145},{"s":"Q3-2020","q":8,"v":0.155},{"s":"Q3-2020","q":9,"v":0.155},{"s":"Q3-2020","q":10,"v":0.17},{"s":"Q3-2020","q":11,"v":0.18},{"s":"Q3-2020","q":12,"v":0.18},{"s":"Q3-2020","q":13,"v":0.185},{"s":"Q3-2020","q":14,"v":0.185},{"s":"Q3-2020","q":15,"v":0.19},
{"s":"Q4-2020","q":1,"v":0},{"s":"Q4-2020","q":3,"v":0.01},{"s":"Q4-2020","q":5,"v":0.04},{"s":"Q4-2020","q":6,"v":0.07},{"s":"Q4-2020","q":7,"v":0.1},{"s":"Q4-2020","q":8,"v":0.13},{"s":"Q4-2020","q":9,"v":0.15},{"s":"Q4-2020","q":10,"v":0.16},{"s":"Q4-2020","q":11,"v":0.17},{"s":"Q4-2020","q":12,"v":0.185},{"s":"Q4-2020","q":13,"v":0.2},{"s":"Q4-2020","q":14,"v":0.21},
{"s":"Q1-2021","q":1,"v":0},{"s":"Q1-2021","q":3,"v":0.02},{"s":"Q1-2021","q":5,"v":0.05},{"s":"Q1-2021","q":7,"v":0.09},{"s":"Q1-2021","q":8,"v":0.12},{"s":"Q1-2021","q":9,"v":0.14},{"s":"Q1-2021","q":10,"v":0.17},{"s":"Q1-2021","q":11,"v":0.185},{"s":"Q1-2021","q":12,"v":0.19},{"s":"Q1-2021","q":13,"v":0.19},
{"s":"Q2-2021","q":1,"v":0},{"s":"Q2-2021","q":4,"v":0.01},{"s":"Q2-2021","q":6,"v":0.02},{"s":"Q2-2021","q":7,"v":0.03},{"s":"Q2-2021","q":8,"v":0.04},{"s":"Q2-2021","q":9,"v":0.06},{"s":"Q2-2021","q":10,"v":0.08},{"s":"Q2-2021","q":11,"v":0.09},{"s":"Q2-2021","q":12,"v":0.1},
{"s":"Q3-2021","q":1,"v":0},{"s":"Q3-2021","q":6,"v":0},{"s":"Q3-2021","q":7,"v":0.02},{"s":"Q3-2021","q":8,"v":0.04},{"s":"Q3-2021","q":9,"v":0.07},{"s":"Q3-2021","q":10,"v":0.07},{"s":"Q3-2021","q":11,"v":0.105},
{"s":"Q4-2021","q":1,"v":0},{"s":"Q4-2021","q":3,"v":0.02},{"s":"Q4-2021","q":5,"v":0.05},{"s":"Q4-2021","q":7,"v":0.09},{"s":"Q4-2021","q":8,"v":0.12},{"s":"Q4-2021","q":9,"v":0.15},{"s":"Q4-2021","q":10,"v":0.19},
{"s":"Q1-2022","q":1,"v":0},{"s":"Q1-2022","q":3,"v":0.01},{"s":"Q1-2022","q":5,"v":0.03},{"s":"Q1-2022","q":6,"v":0.05},{"s":"Q1-2022","q":7,"v":0.07},{"s":"Q1-2022","q":8,"v":0.1},{"s":"Q1-2022","q":9,"v":0.13},
{"s":"Q2-2022","q":1,"v":0},{"s":"Q2-2022","q":3,"v":0.01},{"s":"Q2-2022","q":5,"v":0.04},{"s":"Q2-2022","q":6,"v":0.07},{"s":"Q2-2022","q":7,"v":0.12},{"s":"Q2-2022","q":8,"v":0.15},
{"s":"Q3-2022","q":1,"v":0},{"s":"Q3-2022","q":3,"v":0.01},{"s":"Q3-2022","q":4,"v":0.02},{"s":"Q3-2022","q":5,"v":0.04},{"s":"Q3-2022","q":6,"v":0.06},{"s":"Q3-2022","q":7,"v":0.1},
{"s":"Q4-2022","q":1,"v":0},{"s":"Q4-2022","q":3,"v":0.02},{"s":"Q4-2022","q":4,"v":0.05},{"s":"Q4-2022","q":5,"v":0.09},{"s":"Q4-2022","q":6,"v":0.1},
{"s":"Q1-2023","q":1,"v":0},{"s":"Q1-2023","q":2,"v":0.01},{"s":"Q1-2023","q":3,"v":0.05},{"s":"Q1-2023","q":4,"v":0.07},{"s":"Q1-2023","q":5,"v":0.1},
{"s":"Q2-2023","q":1,"v":0},{"s":"Q2-2023","q":2,"v":0},{"s":"Q2-2023","q":3,"v":0.01},{"s":"Q2-2023","q":4,"v":0.03},
{"s":"Q3-2023","q":1,"v":0},{"s":"Q3-2023","q":2,"v":0},{"s":"Q3-2023","q":3,"v":0.01},
{"s":"Q4-2023","q":1,"v":0},{"s":"Q4-2023","q":2,"v":0},
{"s":"Q1-2024","q":1,"v":0}
]},
"mark":{"type":"line","strokeWidth":3},
"encoding":{
"color":{"field":"s","type":"nominal",
"scale":{"domain":["Q3-2002","Q4-2002","Q1-2003","Q2-2003","Q3-2003","Q4-2003","Q1-2004","Q2-2004","Q3-2004","Q4-2004","Q1-2005","Q2-2005","Q3-2005","Q4-2005","Q1-2006","Q2-2006","Q3-2006","Q4-2006","Q1-2007","Q2-2007","Q3-2007","Q4-2007","Q1-2008","Q2-2008","Q3-2008","Q4-2008","Q1-2009","Q2-2009","Q3-2009","Q4-2009","Q1-2010","Q2-2010","Q3-2010","Q4-2010","Q1-2011","Q2-2011","Q3-2011","Q4-2011","Q1-2012","Q2-2012","Q3-2012","Q4-2012","Q1-2013","Q2-2013","Q3-2013","Q4-2013","Q1-2014","Q2-2014","Q3-2014","Q4-2014","Q1-2015","Q2-2015","Q3-2015","Q4-2015","Q1-2016","Q2-2016","Q3-2016","Q4-2016","Q1-2017","Q2-2017","Q3-2017","Q4-2017","Q1-2018","Q2-2018","Q3-2018","Q4-2018","Q1-2019","Q2-2019","Q3-2019","Q4-2019","Q1-2020","Q2-2020","Q3-2020","Q4-2020","Q1-2021","Q2-2021","Q3-2021","Q4-2021","Q1-2022","Q2-2022","Q3-2022","Q4-2022","Q1-2023","Q2-2023","Q3-2023","Q4-2023","Q1-2024","Base case"],
"range":["#1B7B8C","#F2A64A","#7A2886","#5DBE9C","#C22558","#A9B3E2","#2441AB","#B484BD","#CC480C","#6AAABA","#511A5C","#D36488","#1B6A2C","#A0D1A4","#A0580A","#E8AC90","#0B4F5B","#F28A0A","#6E1408","#5E72C6","#B7D7DC","#FFC88E","#DCC1E0","#BFE5D8","#E8A5B8","#7A8BD0","#0A6B50","#A8190B","#E0794A","#0C2A2C","#8B4A9B","#7B1839","#1F9136","#C6E3C6","#D4A965","#872C0B","#14A07C","#A77A2A","#DBA19A","#0A2A8D",
"#1B7B8C","#F2A64A","#7A2886","#5DBE9C","#C22558","#A9B3E2","#2441AB","#B484BD","#CC480C","#6AAABA","#511A5C","#D36488","#1B6A2C","#A0D1A4","#A0580A","#E8AC90","#0B4F5B","#F28A0A","#6E1408","#5E72C6","#B7D7DC","#FFC88E","#DCC1E0","#BFE5D8","#E8A5B8","#7A8BD0","#0A6B50","#A8190B","#E0794A","#0C2A2C","#8B4A9B","#7B1839","#1F9136","#C6E3C6","#D4A965","#872C0B","#14A07C","#A77A2A","#DBA19A",
"#1B7B8C","#F2A64A","#7A2886","#5DBE9C","#C22558","#A9B3E2","#2441AB","#B484BD","#000000"]},
"legend":{"orient":"none","direction":"horizontal","legendX":804,"legendY":-12,"columns":3,"title":null,"symbolType":"M-6.8,0H6.8","symbolSize":100,"symbolStrokeWidth":4,"labelFontSize":18,"labelColor":"#000","labelOffset":31,"columnPadding":18,"rowPadding":3,"symbolLimit":100,"gridAlign":"all","labelLimit":200,
"encode":{"symbols":{"update":{"strokeDash":{"signal":"datum.value === 'Base case' ? [13,11] : [1,0]"}}}}}}
}},
{"data":{"values":[{"s":"Base case","q":1,"v":1.7},{"s":"Base case","q":27,"v":1.7}]},
"mark":{"type":"line","strokeWidth":4,"strokeDash":[13,12]},
"encoding":{"color":{"field":"s","type":"nominal"}}}
]
}
